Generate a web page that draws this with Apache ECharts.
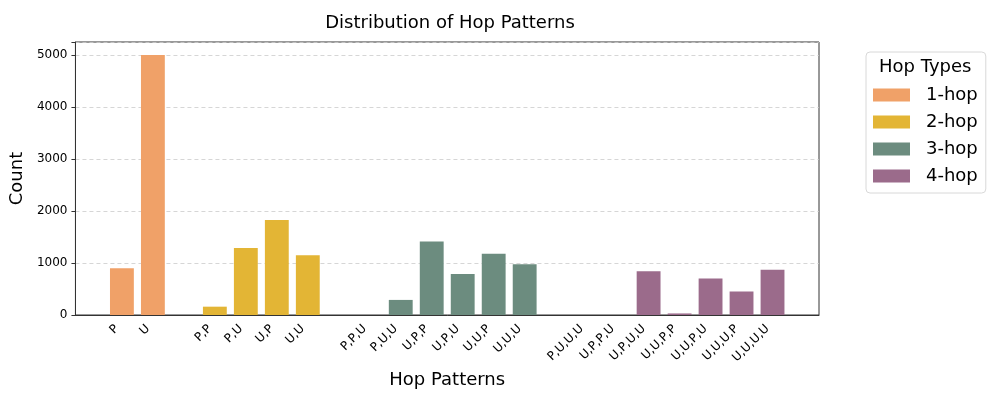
<!DOCTYPE html>
<html>
<head>
<meta charset="utf-8">
<script src="https://cdn.jsdelivr.net/npm/echarts@6/dist/echarts.min.js"></script>
<style>
	html, body { margin: 0; padding: 0; background: #fff; }
	#chart { width: 997px; height: 399px; }
</style>
</head>
<body>
<div id="chart"></div>
<script>
var hop1Labels = ['P', 'U'];
var hop1Counts = [900, 5000];
var hop2Labels = ['P,P', 'P,U', 'U,P', 'U,U'];
var hop2Counts = [160, 1290, 1825, 1150];
var hop3Labels = ['P,P,U', 'P,U,U', 'U,P,P', 'U,P,U', 'U,U,P', 'U,U,U'];
var hop3Counts = [0, 290, 1415, 790, 1180, 975];
var hop4Labels = ['P,U,U,U', 'U,P,P,U', 'U,P,U,U', 'U,U,P,P', 'U,U,P,U', 'U,U,U,P', 'U,U,U,U'];
var hop4Counts = [0, 0, 840, 30, 700, 452, 872];
var yTicks = [0, 1000, 2000, 3000, 4000, 5000];

var groups = [
	{ name: '1-hop', labels: hop1Labels, counts: hop1Counts, color: '#f0a168' },
	{ name: '2-hop', labels: hop2Labels, counts: hop2Counts, color: '#e3b535' },
	{ name: '3-hop', labels: hop3Labels, counts: hop3Counts, color: '#6c8c7f' },
	{ name: '4-hop', labels: hop4Labels, counts: hop4Counts, color: '#9b6b8b' }
];

// blank categories leave the gaps between the groups
var categories = [''];
groups.forEach(function(g) {
	g.start = categories.length;
	categories = categories.concat(g.labels, ['']);
});

var series = groups.map(function(g) {
	var data = categories.map(function() { return null; });
	g.counts.forEach(function(v, i) { data[g.start + i] = v; });
	return {
		name: g.name,
		type: 'bar',
		barWidth: '77%',
		barGap: '-100%',
		data: data,
		itemStyle: { color: g.color }
	};
});

var chart = echarts.init(document.getElementById('chart'));
chart.setOption({
	animation: false,
	textStyle: { fontFamily: 'DejaVu Sans' },
	title: {
		text: 'Distribution of Hop Patterns',
		left: 445,
		top: 9,
		textAlign: 'center',
		textStyle: { fontSize: 18, fontWeight: 'normal', color: '#000' }
	},
	grid: {
		left: 71, right: 178, top: 42, bottom: 84,
		show: true, borderColor: '#333', borderWidth: 1
	},
	legend: {
		orient: 'vertical',
		left: 866,
		top: 52,
		padding: [33, 8, 7, 7],
		itemGap: 7,
		itemWidth: 37,
		itemHeight: 13,
		borderColor: '#d8d8d8',
		borderWidth: 1,
		borderRadius: 4,
		icon: 'rect',
		textStyle: { fontSize: 18, lineHeight: 20, color: '#000', padding: [0, 0, 0, 11] },
		data: groups.map(function(g) { return g.name; })
	},
	graphic: [{
		type: 'text',
		left: 879,
		top: 58,
		style: { text: 'Hop Types', fontSize: 18, fontFamily: 'DejaVu Sans', fill: '#000' }
	}],
	xAxis: {
		type: 'category',
		data: categories,
		name: 'Hop Patterns',
		nameLocation: 'middle',
		nameGap: 56,
		nameTextStyle: { fontSize: 18, color: '#000' },
		axisLine: { lineStyle: { color: '#333' } },
		axisTick: {
			alignWithLabel: true,
			length: 4,
			lineStyle: { color: '#333' },
			interval: function(i, v) { return v !== ''; }
		},
		axisLabel: {
			rotate: 45, fontSize: 12, color: '#000', margin: 7, interval: 0,
			padding: [0, 7, 0, 0]
		}
	},
	yAxis: {
		type: 'value',
		min: 0,
		max: 5250,
		interval: 1000,
		name: 'Count',
		nameLocation: 'middle',
		nameGap: 45,
		nameTextStyle: { fontSize: 18, color: '#000' },
		axisLine: { show: true, lineStyle: { color: '#333' } },
		axisTick: { show: true, length: 4, lineStyle: { color: '#333' } },
		axisLabel: {
			fontSize: 12, color: '#000', margin: 8,
			formatter: function(v) { return yTicks.indexOf(v) >= 0 ? String(v) : ''; }
		},
		splitLine: { lineStyle: { color: '#cccccc', type: [4, 3], width: 0.8 } }
	},
	series: series
});
</script>
</body>
</html>
